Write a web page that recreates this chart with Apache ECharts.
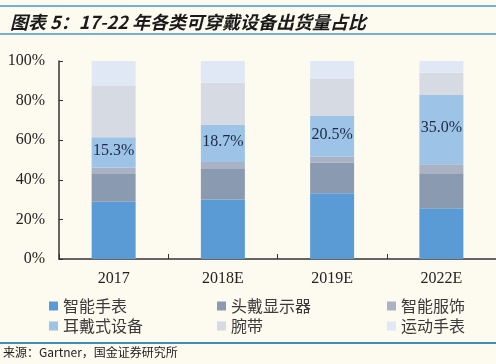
<!DOCTYPE html>
<html><head><meta charset="utf-8">
<script src="https://cdn.jsdelivr.net/npm/echarts@6/dist/echarts.min.js"></script>
<style>html,body{margin:0;padding:0;background:#fdfaf0;}#c{width:496px;height:364px;}</style>
</head><body><div id="c"></div>
<script>
const categories = ['2017', '2018E', '2019E', '2022E'];
const seriesNames = ['智能手表', '头戴显示器', '智能服饰', '耳戴式设备', '腕带', '运动手表'];
const smartWatch = [28.9, 30.1, 33.2, 25.6];
const hmd = [14.0, 15.4, 15.6, 17.7];
const smartClothing = [3.3, 3.5, 2.9, 4.5];
const earWear = [15.3, 18.7, 20.5, 35.0];
const wristband = [25.9, 21.3, 18.7, 11.3];
const sportsWatch = [12.6, 11.0, 9.1, 5.9];
const yTicks = ['0%', '20%', '40%', '60%', '80%', '100%'];

const colors = ['#5b9bd5', '#8a9ab0', '#aab2c6', '#9dc3e6', '#d5dae3', '#dfe8f4'];
const values = [smartWatch, hmd, smartClothing, earWear, wristband, sportsWatch];
const serif = '"Liberation Serif", "Times New Roman", serif';
const cjk = '"Noto Sans CJK SC", sans-serif';

const series = seriesNames.map((n, i) => ({
  name: n, type: 'bar', stack: 'all', barWidth: 44,
  data: values[i],
  itemStyle: { color: colors[i] },
  label: i === 3 ? { show: true, position: 'inside', formatter: p => p.value.toFixed(1) + '%',
    fontFamily: serif, fontSize: 16, color: '#1c2a45', offset: [0, -2] } : { show: false }
}));

const legendPos = [[44, 293], [212, 293], [382, 293], [44, 313], [212, 313], [382, 313]];
const legends = seriesNames.map((n, i) => ({
  data: [n], left: legendPos[i][0], top: legendPos[i][1], orient: 'horizontal',
  itemWidth: 9, itemHeight: 9, itemGap: 4, icon: 'rect',
  textStyle: { fontFamily: cjk, fontSize: 16, color: '#3a3a3a' }
}));

const chart = echarts.init(document.getElementById('c'));
chart.setOption({
  backgroundColor: '#fdfaf0',
  animation: false,
  title: { text: '图表 5：17-22 年各类可穿戴设备出货量占比', left: 5, top: 8,
    textStyle: { fontFamily: cjk, fontSize: 18, fontWeight: 'bold', fontStyle: 'italic', color: '#1a1a1a' } },
  legend: legends,
  grid: { left: 59, right: -7, top: 61, bottom: 105 },
  xAxis: { type: 'category', data: categories,
    axisLine: { lineStyle: { color: '#333', width: 1.5 } },
    axisTick: { show: true, inside: true, length: 5, lineStyle: { color: '#333' } },
    axisLabel: { fontFamily: serif, fontSize: 16, color: '#222', margin: 12 } },
  yAxis: { type: 'value', min: 0, max: 100, interval: 20,
    axisLine: { show: true, lineStyle: { color: '#333', width: 1.5 } },
    axisTick: { show: true, inside: true, length: 4, lineStyle: { color: '#333' } },
    splitLine: { show: false },
    axisLabel: { fontFamily: serif, fontSize: 16, color: '#222', margin: 14,
      formatter: v => yTicks[v / 20] } },
  series: series,
  graphic: [
    { type: 'line', shape: { x1: 0, y1: 6, x2: 496, y2: 6 }, style: { stroke: '#4a95c9', lineWidth: 1.5 } },
    { type: 'line', shape: { x1: 0, y1: 34, x2: 496, y2: 34 }, style: { stroke: '#4a95c9', lineWidth: 1.5 } },
    { type: 'line', shape: { x1: 0, y1: 343, x2: 496, y2: 343 }, style: { stroke: '#3f8fb5', lineWidth: 2 } },
    { type: 'text', left: 3, top: 346, style: { text: '来源：Gartner，国金证券研究所', font: '12px "Noto Sans CJK SC"', fill: '#222' } }
  ]
});
</script></body></html>
